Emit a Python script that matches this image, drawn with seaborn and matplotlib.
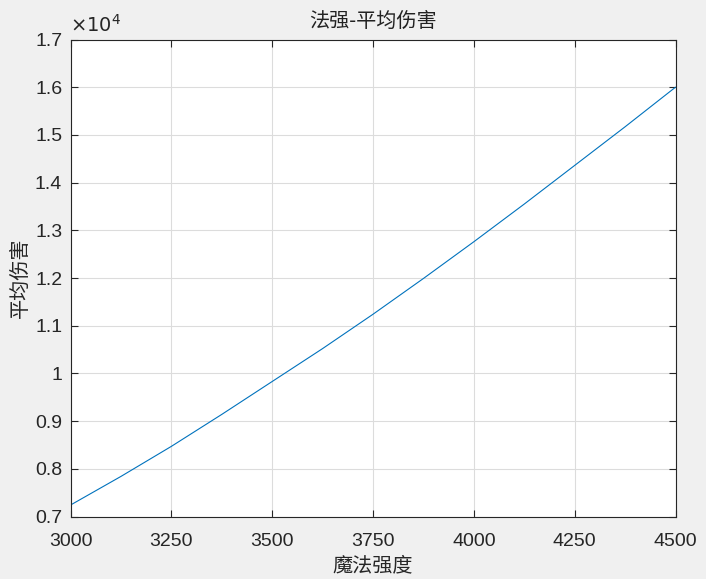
import matplotlib
matplotlib.use("Agg")
import matplotlib.pyplot as plt
import seaborn as sns
import pandas as pd
from matplotlib.ticker import FuncFormatter

# data
magic_power = [3000, 3125, 3250, 3375, 3500, 3625, 3750, 3875, 4000, 4125, 4250, 4375, 4500]
avg_damage = [7240, 7840, 8470, 9140, 9830, 10520, 11240, 11990, 12760, 13550, 14360, 15170, 16000]
x_ticks = [3000, 3250, 3500, 3750, 4000, 4250, 4500]
y_ticks = [7000, 8000, 9000, 10000, 11000, 12000, 13000, 14000, 15000, 16000, 17000]

title = "法强-平均伤害"
xlabel = "魔法强度"
ylabel = "平均伤害"

sns.set_style("ticks")
plt.rcParams['font.family'] = ['Liberation Sans', 'Noto Sans CJK SC', 'DejaVu Sans']

df = pd.DataFrame({"x": magic_power, "y": avg_damage})

fig = plt.figure(figsize=(7.06, 5.79), dpi=100, facecolor="#f0f0f0")
ax = fig.add_axes([70.5/706, 1 - 516.5/579, (675.5-70.5)/706, (516.5-39.5)/579])
ax.set_facecolor("white")

sns.lineplot(data=df, x="x", y="y", ax=ax, color="#0072BD", linewidth=0.8)

ax.set_xlim(3000, 4500)
ax.set_ylim(7000, 17000)
ax.set_xticks(x_ticks)
ax.set_yticks(y_ticks)
ax.yaxis.set_major_formatter(FuncFormatter(lambda v, p: f"{v/1e4:g}"))
ax.xaxis.set_major_formatter(FuncFormatter(lambda v, p: f"{v:g}"))

ax.grid(True, color="#dcdcdc", linewidth=0.8)
ax.set_axisbelow(True)
ax.tick_params(direction="in", length=5, width=0.8, colors="#262626",
               labelsize=14, top=True, right=True)
ax.tick_params(axis="x", pad=12)
ax.tick_params(axis="y", pad=6)
for s in ax.spines.values():
    s.set_color("#262626")
    s.set_linewidth(0.8)
    s.set_visible(True)

cjk = ['Noto Sans CJK SC', 'DejaVu Sans']
ax.set_title(title, fontsize=14.5, family=cjk, color="#222222", pad=9)
ax.set_xlabel(xlabel, fontsize=14.5, family=cjk, color="#262626", labelpad=4)
ax.set_ylabel(ylabel, fontsize=14.5, family=cjk, color="#262626", labelpad=3)

ax.text(0.0, 1.008, r"$\times10^{4}$", transform=ax.transAxes, fontsize=14,
        color="#262626", ha="left", va="bottom", family="DejaVu Sans")

fig.savefig("out.png", dpi=100, facecolor=fig.get_facecolor())
